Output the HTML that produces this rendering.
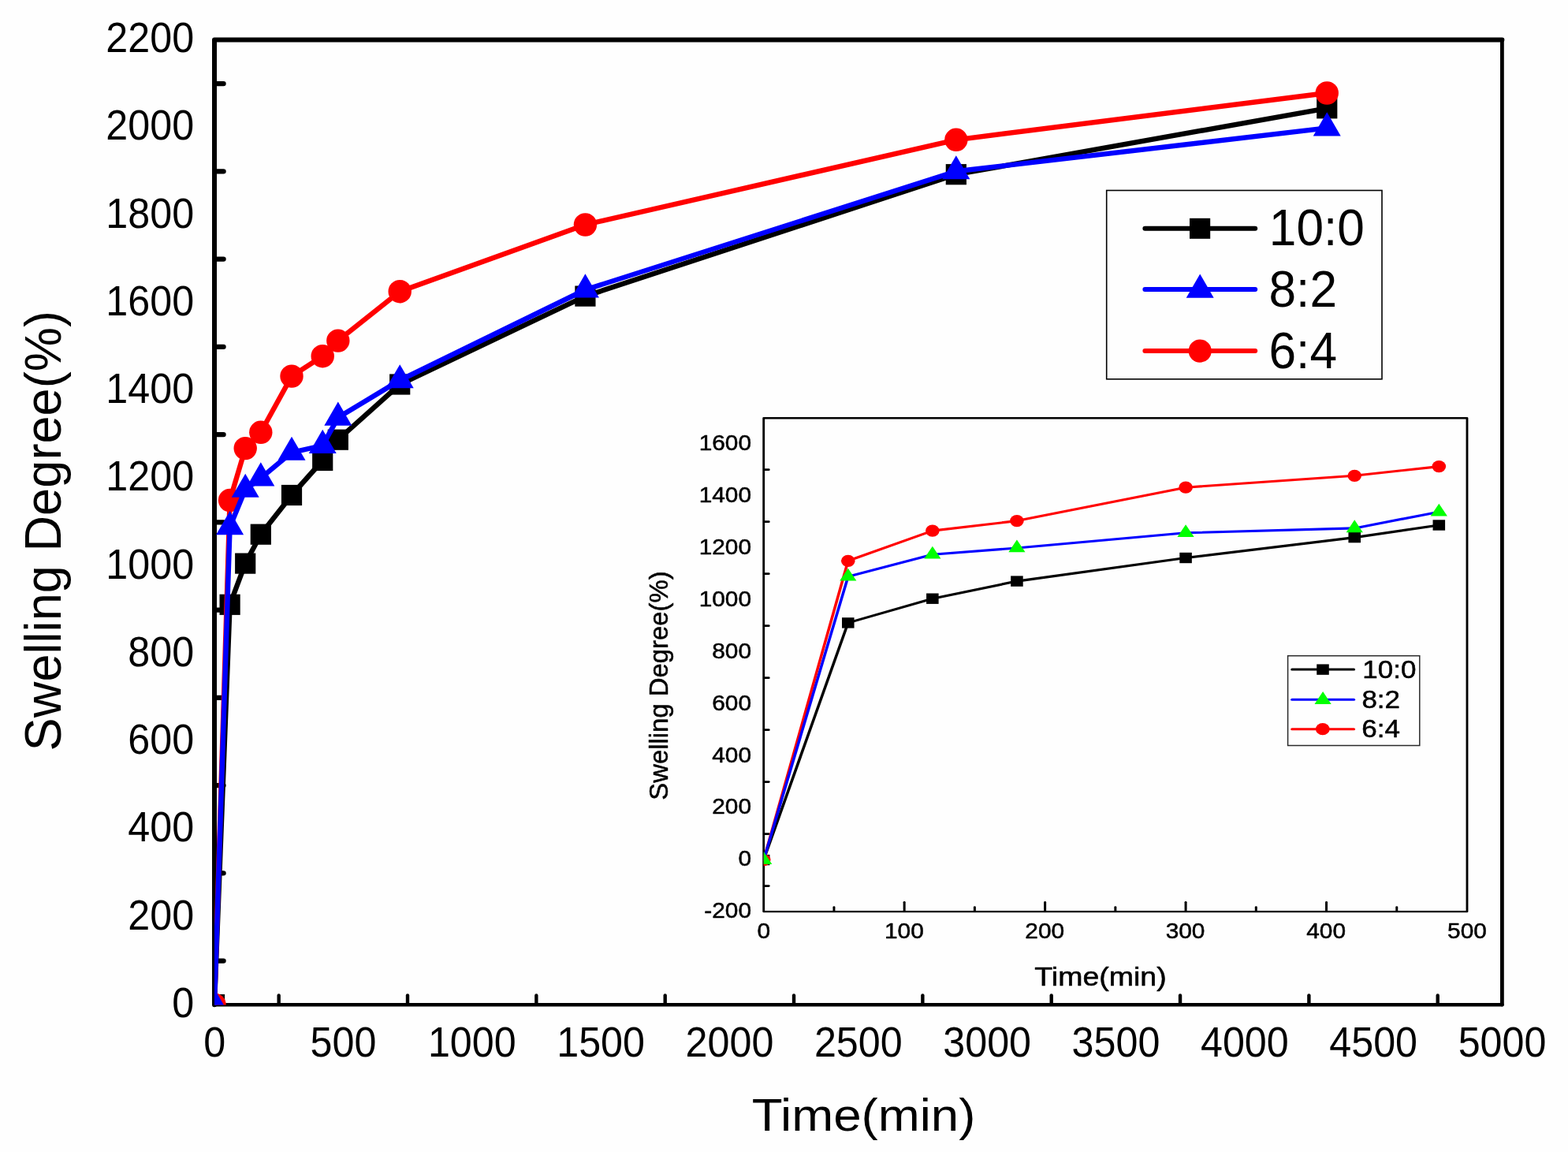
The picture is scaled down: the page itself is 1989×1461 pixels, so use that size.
<!DOCTYPE html>
<html lang="en">
<head>
<meta charset="utf-8">
<title>Swelling Degree vs Time</title>
<style>
html,body{margin:0;padding:0;background:#fefefe;}
body{width:1989px;height:1461px;overflow:hidden;}
svg{display:block;}
text{font-family:"Liberation Sans", Arial, Helvetica, sans-serif;}
</style>
</head>
<body>
<svg width="1989" height="1461" viewBox="0 0 1989 1461">
<rect x="0" y="0" width="1989" height="1461" fill="#fefefe"/>
<defs>
<clipPath id="mclip"><rect x="272.0" y="50.5" width="1633.4" height="1224.0"/></clipPath>
<clipPath id="iclip"><rect x="968.7" y="530.3" width="892.3" height="625.8"/></clipPath>
</defs>

<g id="main-axes" stroke="#000" fill="none" stroke-linecap="round" stroke-linejoin="round">
<polyline points="272.0,1274.2 272.0,50.5 1905.4,50.5" stroke-width="6"/>
<line x1="272.0" y1="1274.3" x2="1905.4" y2="1274.3" stroke-width="4.6"/>
<line x1="1905.4" y1="1274.2" x2="1905.4" y2="50.5" stroke-width="4.8"/>
<line x1="275.0" y1="1218.58" x2="283.5" y2="1218.58" stroke-width="6.4"/>
<line x1="275.0" y1="1107.33" x2="283.5" y2="1107.33" stroke-width="6.4"/>
<line x1="275.0" y1="996.09" x2="283.5" y2="996.09" stroke-width="6.4"/>
<line x1="275.0" y1="884.84" x2="283.5" y2="884.84" stroke-width="6.4"/>
<line x1="275.0" y1="773.60" x2="283.5" y2="773.60" stroke-width="6.4"/>
<line x1="275.0" y1="662.35" x2="283.5" y2="662.35" stroke-width="6.4"/>
<line x1="275.0" y1="551.10" x2="283.5" y2="551.10" stroke-width="6.4"/>
<line x1="275.0" y1="439.86" x2="283.5" y2="439.86" stroke-width="6.4"/>
<line x1="275.0" y1="328.61" x2="283.5" y2="328.61" stroke-width="6.4"/>
<line x1="275.0" y1="217.37" x2="283.5" y2="217.37" stroke-width="6.4"/>
<line x1="275.0" y1="106.12" x2="283.5" y2="106.12" stroke-width="6.4"/>
<line x1="353.67" y1="1272.2" x2="353.67" y2="1262.4" stroke-width="4.4"/>
<line x1="517.01" y1="1272.2" x2="517.01" y2="1262.4" stroke-width="4.4"/>
<line x1="680.35" y1="1272.2" x2="680.35" y2="1262.4" stroke-width="4.4"/>
<line x1="843.69" y1="1272.2" x2="843.69" y2="1262.4" stroke-width="4.4"/>
<line x1="1007.03" y1="1272.2" x2="1007.03" y2="1262.4" stroke-width="4.4"/>
<line x1="1170.37" y1="1272.2" x2="1170.37" y2="1262.4" stroke-width="4.4"/>
<line x1="1333.71" y1="1272.2" x2="1333.71" y2="1262.4" stroke-width="4.4"/>
<line x1="1497.05" y1="1272.2" x2="1497.05" y2="1262.4" stroke-width="4.4"/>
<line x1="1660.39" y1="1272.2" x2="1660.39" y2="1262.4" stroke-width="4.4"/>
<line x1="1823.73" y1="1272.2" x2="1823.73" y2="1262.4" stroke-width="4.4"/>
</g>
<g id="main-ylabels">
<text transform="translate(246.10 1289.90) scale(0.9850 1.0600)" font-size="51" text-anchor="end" fill="#000">0</text>
<text transform="translate(246.10 1178.65) scale(0.9850 1.0600)" font-size="51" text-anchor="end" fill="#000">200</text>
<text transform="translate(246.10 1067.41) scale(0.9850 1.0600)" font-size="51" text-anchor="end" fill="#000">400</text>
<text transform="translate(246.10 956.16) scale(0.9850 1.0600)" font-size="51" text-anchor="end" fill="#000">600</text>
<text transform="translate(246.10 844.92) scale(0.9850 1.0600)" font-size="51" text-anchor="end" fill="#000">800</text>
<text transform="translate(246.10 733.67) scale(0.9850 1.0600)" font-size="51" text-anchor="end" fill="#000">1000</text>
<text transform="translate(246.10 622.43) scale(0.9850 1.0600)" font-size="51" text-anchor="end" fill="#000">1200</text>
<text transform="translate(246.10 511.18) scale(0.9850 1.0600)" font-size="51" text-anchor="end" fill="#000">1400</text>
<text transform="translate(246.10 399.94) scale(0.9850 1.0600)" font-size="51" text-anchor="end" fill="#000">1600</text>
<text transform="translate(246.10 288.69) scale(0.9850 1.0600)" font-size="51" text-anchor="end" fill="#000">1800</text>
<text transform="translate(246.10 177.45) scale(0.9850 1.0600)" font-size="51" text-anchor="end" fill="#000">2000</text>
<text transform="translate(246.10 66.20) scale(0.9850 1.0600)" font-size="51" text-anchor="end" fill="#000">2200</text>
</g>
<g id="main-xlabels">
<text transform="translate(272.10 1340.30) scale(0.9850 1.0600)" font-size="51" text-anchor="middle" fill="#000">0</text>
<text transform="translate(435.44 1340.30) scale(0.9850 1.0600)" font-size="51" text-anchor="middle" fill="#000">500</text>
<text transform="translate(598.78 1340.30) scale(0.9850 1.0600)" font-size="51" text-anchor="middle" fill="#000">1000</text>
<text transform="translate(762.12 1340.30) scale(0.9850 1.0600)" font-size="51" text-anchor="middle" fill="#000">1500</text>
<text transform="translate(925.46 1340.30) scale(0.9850 1.0600)" font-size="51" text-anchor="middle" fill="#000">2000</text>
<text transform="translate(1088.80 1340.30) scale(0.9850 1.0600)" font-size="51" text-anchor="middle" fill="#000">2500</text>
<text transform="translate(1252.14 1340.30) scale(0.9850 1.0600)" font-size="51" text-anchor="middle" fill="#000">3000</text>
<text transform="translate(1415.48 1340.30) scale(0.9850 1.0600)" font-size="51" text-anchor="middle" fill="#000">3500</text>
<text transform="translate(1578.82 1340.30) scale(0.9850 1.0600)" font-size="51" text-anchor="middle" fill="#000">4000</text>
<text transform="translate(1742.16 1340.30) scale(0.9850 1.0600)" font-size="51" text-anchor="middle" fill="#000">4500</text>
<text transform="translate(1905.50 1340.30) scale(0.9850 1.0600)" font-size="51" text-anchor="middle" fill="#000">5000</text>
</g>
<text transform="translate(77.20 673.20) rotate(-90) scale(1.0030 1.0400)" font-size="63" text-anchor="middle" fill="#000">Swelling Degree(%)</text>
<text transform="translate(1095.50 1434.20) scale(1.2000 1.0750)" font-size="53" text-anchor="middle" fill="#000">Time(min)</text>
<g id="main-data" clip-path="url(#mclip)" fill="none" stroke-linejoin="round" stroke-linecap="round">
<polyline points="272.00,1274.10 291.60,766.80 311.20,714.60 330.80,677.70 370.00,628.00 409.21,584.00 428.81,557.70 507.21,487.50 742.42,375.60 1212.84,221.20 1683.26,137.30" stroke="#000" stroke-width="6.4"/>
<rect x="258.90" y="1261.00" width="26.20" height="26.20" fill="#000"/>
<rect x="278.50" y="753.70" width="26.20" height="26.20" fill="#000"/>
<rect x="298.10" y="701.50" width="26.20" height="26.20" fill="#000"/>
<rect x="317.70" y="664.60" width="26.20" height="26.20" fill="#000"/>
<rect x="356.90" y="614.90" width="26.20" height="26.20" fill="#000"/>
<rect x="396.11" y="570.90" width="26.20" height="26.20" fill="#000"/>
<rect x="415.71" y="544.60" width="26.20" height="26.20" fill="#000"/>
<rect x="494.11" y="474.40" width="26.20" height="26.20" fill="#000"/>
<rect x="729.32" y="362.50" width="26.20" height="26.20" fill="#000"/>
<rect x="1199.74" y="208.10" width="26.20" height="26.20" fill="#000"/>
<rect x="1670.16" y="124.20" width="26.20" height="26.20" fill="#000"/>
<polyline points="272.00,1274.10 291.60,634.50 311.20,568.60 330.80,548.30 370.00,477.10 409.21,451.70 428.81,432.10 507.21,369.70 742.42,285.00 1212.84,177.30 1683.26,118.00" stroke="#f00" stroke-width="6.4"/>
<ellipse cx="272.00" cy="1274.10" rx="14.70" ry="14.70" fill="#f00"/>
<ellipse cx="291.60" cy="634.50" rx="14.70" ry="14.70" fill="#f00"/>
<ellipse cx="311.20" cy="568.60" rx="14.70" ry="14.70" fill="#f00"/>
<ellipse cx="330.80" cy="548.30" rx="14.70" ry="14.70" fill="#f00"/>
<ellipse cx="370.00" cy="477.10" rx="14.70" ry="14.70" fill="#f00"/>
<ellipse cx="409.21" cy="451.70" rx="14.70" ry="14.70" fill="#f00"/>
<ellipse cx="428.81" cy="432.10" rx="14.70" ry="14.70" fill="#f00"/>
<ellipse cx="507.21" cy="369.70" rx="14.70" ry="14.70" fill="#f00"/>
<ellipse cx="742.42" cy="285.00" rx="14.70" ry="14.70" fill="#f00"/>
<ellipse cx="1212.84" cy="177.30" rx="14.70" ry="14.70" fill="#f00"/>
<ellipse cx="1683.26" cy="118.00" rx="14.70" ry="14.70" fill="#f00"/>
<polyline points="272.00,1274.10 291.60,668.20 311.20,620.80 330.80,606.40 370.00,573.80 409.21,565.00 428.81,529.60 507.21,482.30 742.42,367.50 1212.84,217.30 1683.26,162.40" stroke="#00f" stroke-width="6.4"/>
<polygon points="272.00,1253.97 254.50,1284.17 289.50,1284.17" fill="#00f"/>
<polygon points="291.60,648.07 274.10,678.27 309.10,678.27" fill="#00f"/>
<polygon points="311.20,600.67 293.70,630.87 328.70,630.87" fill="#00f"/>
<polygon points="330.80,586.27 313.30,616.47 348.30,616.47" fill="#00f"/>
<polygon points="370.00,553.67 352.50,583.87 387.50,583.87" fill="#00f"/>
<polygon points="409.21,544.87 391.71,575.07 426.71,575.07" fill="#00f"/>
<polygon points="428.81,509.47 411.31,539.67 446.31,539.67" fill="#00f"/>
<polygon points="507.21,462.17 489.71,492.37 524.71,492.37" fill="#00f"/>
<polygon points="742.42,347.37 724.92,377.57 759.92,377.57" fill="#00f"/>
<polygon points="1212.84,197.17 1195.34,227.37 1230.34,227.37" fill="#00f"/>
<polygon points="1683.26,142.27 1665.76,172.47 1700.76,172.47" fill="#00f"/>
</g>
<g id="main-legend">
<rect x="1403.7" y="241.5" width="349.30" height="239.30" fill="#fefefe" stroke="#000" stroke-width="1.6"/>
<line x1="1452.4" y1="289.8" x2="1592.2" y2="289.8" stroke="#000" stroke-width="6" stroke-linecap="round"/>
<rect x="1509.00" y="276.80" width="26.20" height="26.00" fill="#000"/>
<line x1="1452.4" y1="367.0" x2="1592.2" y2="367.0" stroke="#00f" stroke-width="6" stroke-linecap="round"/>
<polygon points="1522.20,347.47 1504.70,377.67 1539.70,377.67" fill="#00f"/>
<line x1="1452.4" y1="444.9" x2="1592.2" y2="444.9" stroke="#f00" stroke-width="6" stroke-linecap="round"/>
<ellipse cx="1522.20" cy="445.10" rx="14.60" ry="14.60" fill="#f00"/>
<text transform="translate(1609.80 311.00) scale(1.0200 1.0680)" font-size="61" text-anchor="start" fill="#000">10:0</text>
<text transform="translate(1609.50 389.20) scale(1.0200 1.0680)" font-size="61" text-anchor="start" fill="#000">8:2</text>
<text transform="translate(1609.50 466.60) scale(1.0200 1.0680)" font-size="61" text-anchor="start" fill="#000">6:4</text>
</g>
<g id="inset-axes" transform="translate(968.7 0) scale(1.16 1)" stroke="#000" fill="none" stroke-linecap="round" stroke-linejoin="round">
<rect x="0" y="530.3" width="769.224" height="625.80" stroke-width="2.45"/>
<line x1="1" y1="1123.60" x2="5.517" y2="1123.60" stroke-width="2.75"/>
<line x1="1" y1="1057.61" x2="5.517" y2="1057.61" stroke-width="2.75"/>
<line x1="1" y1="991.62" x2="5.517" y2="991.62" stroke-width="2.75"/>
<line x1="1" y1="925.64" x2="5.517" y2="925.64" stroke-width="2.75"/>
<line x1="1" y1="859.65" x2="5.517" y2="859.65" stroke-width="2.75"/>
<line x1="1" y1="793.66" x2="5.517" y2="793.66" stroke-width="2.75"/>
<line x1="1" y1="727.67" x2="5.517" y2="727.67" stroke-width="2.75"/>
<line x1="1" y1="661.68" x2="5.517" y2="661.68" stroke-width="2.75"/>
<line x1="1" y1="595.70" x2="5.517" y2="595.70" stroke-width="2.75"/>
<line x1="76.922" y1="1154.8999999999999" x2="76.922" y2="1150.5" stroke-width="2.6"/>
<line x1="153.845" y1="1154.8999999999999" x2="153.845" y2="1144.3" stroke-width="2.6"/>
<line x1="230.767" y1="1154.8999999999999" x2="230.767" y2="1150.5" stroke-width="2.6"/>
<line x1="307.690" y1="1154.8999999999999" x2="307.690" y2="1144.3" stroke-width="2.6"/>
<line x1="384.612" y1="1154.8999999999999" x2="384.612" y2="1150.5" stroke-width="2.6"/>
<line x1="461.534" y1="1154.8999999999999" x2="461.534" y2="1144.3" stroke-width="2.6"/>
<line x1="538.457" y1="1154.8999999999999" x2="538.457" y2="1150.5" stroke-width="2.6"/>
<line x1="615.379" y1="1154.8999999999999" x2="615.379" y2="1144.3" stroke-width="2.6"/>
<line x1="692.302" y1="1154.8999999999999" x2="692.302" y2="1150.5" stroke-width="2.6"/>
</g>
<g id="inset-ylabels">
<text transform="translate(953.00 1164.20) scale(1.1300 1.0560)" font-size="26.4" text-anchor="end" fill="#000" stroke="#000" stroke-width="0.5" stroke-linejoin="round">-200</text>
<text transform="translate(953.00 1098.33) scale(1.1300 1.0560)" font-size="26.4" text-anchor="end" fill="#000" stroke="#000" stroke-width="0.5" stroke-linejoin="round">0</text>
<text transform="translate(953.00 1032.45) scale(1.1300 1.0560)" font-size="26.4" text-anchor="end" fill="#000" stroke="#000" stroke-width="0.5" stroke-linejoin="round">200</text>
<text transform="translate(953.00 966.58) scale(1.1300 1.0560)" font-size="26.4" text-anchor="end" fill="#000" stroke="#000" stroke-width="0.5" stroke-linejoin="round">400</text>
<text transform="translate(953.00 900.70) scale(1.1300 1.0560)" font-size="26.4" text-anchor="end" fill="#000" stroke="#000" stroke-width="0.5" stroke-linejoin="round">600</text>
<text transform="translate(953.00 834.83) scale(1.1300 1.0560)" font-size="26.4" text-anchor="end" fill="#000" stroke="#000" stroke-width="0.5" stroke-linejoin="round">800</text>
<text transform="translate(953.00 768.96) scale(1.1300 1.0560)" font-size="26.4" text-anchor="end" fill="#000" stroke="#000" stroke-width="0.5" stroke-linejoin="round">1000</text>
<text transform="translate(953.00 703.08) scale(1.1300 1.0560)" font-size="26.4" text-anchor="end" fill="#000" stroke="#000" stroke-width="0.5" stroke-linejoin="round">1200</text>
<text transform="translate(953.00 637.21) scale(1.1300 1.0560)" font-size="26.4" text-anchor="end" fill="#000" stroke="#000" stroke-width="0.5" stroke-linejoin="round">1400</text>
<text transform="translate(953.00 571.33) scale(1.1300 1.0560)" font-size="26.4" text-anchor="end" fill="#000" stroke="#000" stroke-width="0.5" stroke-linejoin="round">1600</text>
</g>
<g id="inset-xlabels">
<text transform="translate(968.80 1190.20) scale(1.1300 1.0400)" font-size="26.4" text-anchor="middle" fill="#000" stroke="#000" stroke-width="0.5" stroke-linejoin="round">0</text>
<text transform="translate(1146.86 1190.20) scale(1.1300 1.0400)" font-size="26.4" text-anchor="middle" fill="#000" stroke="#000" stroke-width="0.5" stroke-linejoin="round">100</text>
<text transform="translate(1325.22 1190.20) scale(1.1300 1.0400)" font-size="26.4" text-anchor="middle" fill="#000" stroke="#000" stroke-width="0.5" stroke-linejoin="round">200</text>
<text transform="translate(1503.58 1190.20) scale(1.1300 1.0400)" font-size="26.4" text-anchor="middle" fill="#000" stroke="#000" stroke-width="0.5" stroke-linejoin="round">300</text>
<text transform="translate(1682.14 1190.20) scale(1.1300 1.0400)" font-size="26.4" text-anchor="middle" fill="#000" stroke="#000" stroke-width="0.5" stroke-linejoin="round">400</text>
<text transform="translate(1861.00 1190.20) scale(1.1300 1.0400)" font-size="26.4" text-anchor="middle" fill="#000" stroke="#000" stroke-width="0.5" stroke-linejoin="round">500</text>
</g>
<text transform="translate(846.70 869.50) rotate(-90) scale(1.0276 1.0230)" font-size="32" text-anchor="middle" fill="#000" stroke="#000" stroke-width="0.5" stroke-linejoin="round">Swelling Degree(%)</text>
<text transform="translate(1396.00 1249.60) scale(1.2500 1.0800)" font-size="30" text-anchor="middle" fill="#000" stroke="#000" stroke-width="0.5" stroke-linejoin="round">Time(min)</text>
<g id="inset-data" clip-path="url(#iclip)"><g transform="translate(968.7 0) scale(1.16 1)" fill="none" stroke-linejoin="round" stroke-linecap="round">
<polyline points="0.00,1090.60 92.31,789.90 184.61,759.20 276.92,737.10 461.53,707.50 646.15,681.60 738.46,666.00" stroke="#000" stroke-width="3.1"/>
<rect x="-6.70" y="1083.90" width="13.40" height="13.40" fill="#000"/>
<rect x="85.61" y="783.20" width="13.40" height="13.40" fill="#000"/>
<rect x="177.91" y="752.50" width="13.40" height="13.40" fill="#000"/>
<rect x="270.22" y="730.40" width="13.40" height="13.40" fill="#000"/>
<rect x="454.83" y="700.80" width="13.40" height="13.40" fill="#000"/>
<rect x="639.45" y="674.90" width="13.40" height="13.40" fill="#000"/>
<rect x="731.76" y="659.30" width="13.40" height="13.40" fill="#000"/>
<polyline points="0.00,1090.60 92.31,711.30 184.61,673.10 276.92,660.60 461.53,618.20 646.15,603.30 738.46,591.60" stroke="#f00" stroke-width="3.1"/>
<ellipse cx="0.00" cy="1090.60" rx="7.60" ry="7.60" fill="#f00"/>
<ellipse cx="92.31" cy="711.30" rx="7.60" ry="7.60" fill="#f00"/>
<ellipse cx="184.61" cy="673.10" rx="7.60" ry="7.60" fill="#f00"/>
<ellipse cx="276.92" cy="660.60" rx="7.60" ry="7.60" fill="#f00"/>
<ellipse cx="461.53" cy="618.20" rx="7.60" ry="7.60" fill="#f00"/>
<ellipse cx="646.15" cy="603.30" rx="7.60" ry="7.60" fill="#f00"/>
<ellipse cx="738.46" cy="591.60" rx="7.60" ry="7.60" fill="#f00"/>
<polyline points="0.00,1090.60 92.31,731.30 184.61,703.30 276.92,695.00 461.53,675.80 646.15,669.90 738.46,649.20" stroke="#00f" stroke-width="3.1"/>
<polygon points="0.00,1080.03 -9.15,1095.88 9.15,1095.88" fill="#0f0"/>
<polygon points="92.31,720.73 83.16,736.58 101.46,736.58" fill="#0f0"/>
<polygon points="184.61,692.73 175.46,708.58 193.76,708.58" fill="#0f0"/>
<polygon points="276.92,684.43 267.77,700.28 286.07,700.28" fill="#0f0"/>
<polygon points="461.53,665.23 452.38,681.08 470.68,681.08" fill="#0f0"/>
<polygon points="646.15,659.33 637.00,675.18 655.30,675.18" fill="#0f0"/>
<polygon points="738.46,638.63 729.31,654.48 747.61,654.48" fill="#0f0"/>
</g></g>
<g id="inset-legend">
<rect x="1633.6" y="831.7" width="167.20" height="113.80" fill="#fefefe" stroke="#2a2a2a" stroke-width="1.5"/>
<g transform="translate(968.7 0) scale(1.16 1)" stroke-linecap="round">
<line x1="577.759" y1="849.1" x2="645.431" y2="849.1" stroke="#000" stroke-width="3"/>
<rect x="604.77" y="842.40" width="13.40" height="13.40" fill="#000"/>
<line x1="577.759" y1="887.3" x2="645.431" y2="887.3" stroke="#00f" stroke-width="3"/>
<polygon points="611.55,877.03 602.40,892.88 620.70,892.88" fill="#0f0"/>
<line x1="577.759" y1="924.7" x2="645.431" y2="924.7" stroke="#f00" stroke-width="3"/>
<ellipse cx="611.29" cy="924.70" rx="7.60" ry="7.60" fill="#f00"/>
</g>
<text transform="translate(1728.30 859.60) scale(1.1670 1.0300)" font-size="30" text-anchor="start" fill="#000" stroke="#000" stroke-width="0.5" stroke-linejoin="round">10:0</text>
<text transform="translate(1727.40 897.70) scale(1.1670 1.0300)" font-size="30" text-anchor="start" fill="#000" stroke="#000" stroke-width="0.5" stroke-linejoin="round">8:2</text>
<text transform="translate(1727.20 935.40) scale(1.1670 1.0300)" font-size="30" text-anchor="start" fill="#000" stroke="#000" stroke-width="0.5" stroke-linejoin="round">6:4</text>
</g>
</svg>
</body>
</html>
